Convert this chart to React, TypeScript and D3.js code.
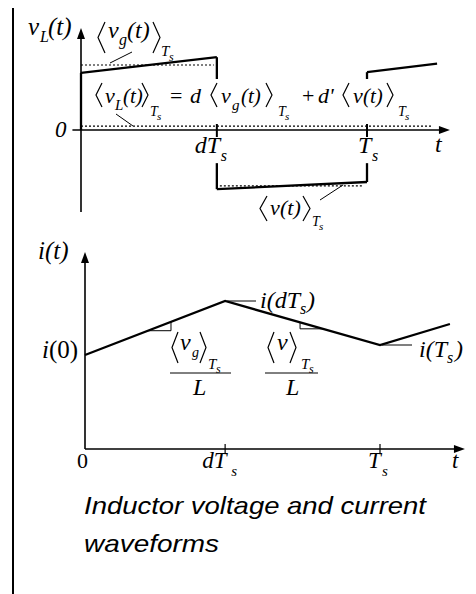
import React from "react";
import * as d3 from "d3";

// Duty cycle (fraction of the switching period Ts)
const D = 0.475;

// Inductor voltage, normalised so that <vg>Ts = 1
const vgInterval = [
  { t: 0, v: 0.88 },
  { t: D, v: 1.12 },
];
const vInterval = [
  { t: D, v: -0.91 },
  { t: 1, v: -0.8 },
];
const vgNextInterval = [
  { t: 1, v: 0.89 },
  { t: 1.245, v: 1.02 },
];
const VG_AVG = 1;
const V_AVG = -0.86;
const VL_AVG = 0.06;
// switching edges are interrupted where the averaging equation crosses them
const EDGE_BREAK = [-0.51, 0.785];

// Inductor current samples
const iPoints = [
  { t: 0, i: 0.94 },
  { t: D, i: 1.48 },
  { t: 1, i: 1.04 },
  { t: 1.237, i: 1.25 },
];

// slope markers (start/end times along each ramp)
const slopeUp = [0.2136, 0.2915];
const slopeDown = [0.729, 0.807];

const MATH = "Liberation Serif";
const SANS = "Liberation Sans";
const INK = "#000";

const xTop = d3.scaleLinear().domain([0, 1]).range([81, 367]);
const yTop = d3.scaleLinear().domain([0, 1]).range([130, 65]);
const xBot = d3.scaleLinear().domain([0, 1]).range([85, 380]);
const yBot = d3.scaleLinear().domain([0, 1]).range([449, 349]);

const lineV = d3
  .line<{ t: number; v: number }>()
  .x((d) => xTop(d.t))
  .y((d) => yTop(d.v));
const lineI = d3
  .line<{ t: number; i: number }>()
  .x((d) => xBot(d.t))
  .y((d) => yBot(d.i));

const iAt = (t: number) => {
  for (let k = 0; k < iPoints.length - 1; k++) {
    const a = iPoints[k];
    const b = iPoints[k + 1];
    if (t >= a.t && t <= b.t) return a.i + ((b.i - a.i) * (t - a.t)) / (b.t - a.t);
  }
  return iPoints[iPoints.length - 1].i;
};

function Angle({ x, top, bottom, w = 6, open }: { x: number; top: number; bottom: number; w?: number; open: boolean }) {
  const mid = (top + bottom) / 2;
  const d = open
    ? `M${x + w},${top}L${x},${mid}L${x + w},${bottom}`
    : `M${x},${top}L${x + w},${mid}L${x},${bottom}`;
  return <path d={d} fill="none" stroke={INK} strokeWidth={1.2} />;
}

function T({ x, y, size = 22, italic = true, children }: any) {
  return (
    <text x={x} y={y} fontFamily={MATH} fontSize={size} fontStyle={italic ? "italic" : "normal"} fill={INK}>
      {children}
    </text>
  );
}

function Arrow({ x, y, dir }: { x: number; y: number; dir: "up" | "right" }) {
  const d =
    dir === "up"
      ? `M${x},${y}L${x - 4},${y + 11}L${x + 4},${y + 11}Z`
      : `M${x},${y}L${x - 11},${y - 4}L${x - 11},${y + 4}Z`;
  return <path d={d} fill={INK} />;
}

export default function App() {
  const dashed = { stroke: INK, strokeWidth: 1.2, strokeDasharray: "2,2", fill: "none" };
  const wave = { stroke: INK, strokeWidth: 2.3, fill: "none" };
  const axis = { stroke: INK, strokeWidth: 1.6 };

  const tri1 = [
    [xBot(slopeUp[0]), yBot(iAt(slopeUp[0]))],
    [xBot(slopeUp[1]), yBot(iAt(slopeUp[0]))],
    [xBot(slopeUp[1]), yBot(iAt(slopeUp[1]))],
  ];
  const tri2 = [
    [xBot(slopeDown[0]), yBot(iAt(slopeDown[0]))],
    [xBot(slopeDown[0]), yBot(iAt(slopeDown[1]))],
    [xBot(slopeDown[1]), yBot(iAt(slopeDown[1]))],
  ];
  const poly = (p: number[][]) => "M" + p.map((q) => q.join(",")).join("L");

  return (
    <svg width={476} height={594} style={{ position: "absolute", left: 0, top: 0, background: "#fff" }}>
      <rect width={476} height={594} fill="#fff" />
      {/* side rule */}
      <line x1={13} y1={8} x2={13} y2={594} stroke={INK} strokeWidth={2} />

      {/* ---------- inductor voltage ---------- */}
      <line x1={xTop(0)} y1={yTop(-1.26)} x2={xTop(0)} y2={yTop(1.57) + 4} {...axis} />
      <Arrow x={xTop(0)} y={yTop(1.57)} dir="up" />
      <line x1={xTop(-0.03)} y1={yTop(0)} x2={xTop(1.29) - 4} y2={yTop(0)} {...axis} />
      <Arrow x={xTop(1.29)} y={yTop(0)} dir="right" />
      {[D, 1].map((t) => (
        <line key={t} x1={xTop(t)} x2={xTop(t)} y1={yTop(0) - 6} y2={yTop(0) + 7} stroke={INK} strokeWidth={2} />
      ))}

      {/* averages */}
      <line x1={xTop(0)} x2={xTop(D) - 3} y1={yTop(VG_AVG)} y2={yTop(VG_AVG)} {...dashed} />
      <line x1={xTop(0)} x2={xTop(1.23)} y1={yTop(VL_AVG)} y2={yTop(VL_AVG)} {...dashed} />
      <line x1={xTop(D) + 3} x2={xTop(1) - 4} y1={yTop(V_AVG)} y2={yTop(V_AVG)} {...dashed} />

      {/* waveform */}
      <path d={lineV(vgInterval) as string} {...wave} />
      <path d={lineV(vInterval) as string} {...wave} />
      <path d={lineV(vgNextInterval) as string} {...wave} />
      <line x1={xTop(0)} x2={xTop(0)} y1={yTop(0)} y2={yTop(vgInterval[0].v)} {...wave} />
      <line x1={xTop(D)} x2={xTop(D)} y1={yTop(vgInterval[1].v)} y2={yTop(EDGE_BREAK[1])} {...wave} />
      <line x1={xTop(D)} x2={xTop(D)} y1={yTop(EDGE_BREAK[0])} y2={yTop(vInterval[0].v)} {...wave} />
      <line x1={xTop(1)} x2={xTop(1)} y1={yTop(vInterval[1].v)} y2={yTop(EDGE_BREAK[0])} {...wave} />
      <line x1={xTop(1)} x2={xTop(1)} y1={yTop(EDGE_BREAK[1])} y2={yTop(vgNextInterval[0].v)} {...wave} />

      {/* leaders */}
      <line x1={110} y1={63} x2={132} y2={52} stroke={INK} strokeWidth={1} />
      <line x1={116} y1={114} x2={133} y2={126} stroke={INK} strokeWidth={1} />
      <line x1={320} y1={200} x2={343} y2={185} stroke={INK} strokeWidth={1} />

      {/* axis labels */}
      <T x={28} y={35} size={25}>v</T>
      <T x={40} y={42} size={16}>L</T>
      <T x={48} y={35} size={25}>(t)</T>
      <T x={55} y={137} size={23}>0</T>
      <T x={xTop(D) - 22} y={153} size={24}>dT</T>
      <T x={xTop(D) + 4} y={161} size={16}>s</T>
      <T x={xTop(1) - 9} y={153} size={24}>T</T>
      <T x={xTop(1) + 5} y={161} size={16}>s</T>
      <T x={435} y={152} size={24}>t</T>

      {/* <vg(t)>Ts */}
      <Angle x={98} top={22} bottom={53} w={7} open />
      <T x={108} y={38} size={24}>v</T>
      <T x={119} y={45} size={16}>g</T>
      <T x={127} y={38} size={24}>(t)</T>
      <Angle x={153} top={22} bottom={53} w={7} open={false} />
      <T x={161} y={56} size={15}>T</T>
      <T x={169} y={61} size={12}>s</T>

      {/* averaging equation */}
      <Angle x={96} top={83} bottom={107} open />
      <T x={105} y={103}>v</T>
      <T x={115} y={110} size={15}>L</T>
      <T x={123} y={103} size={21}>(t)</T>
      <Angle x={142} top={83} bottom={107} open={false} />
      <T x={150} y={116} size={14}>T</T>
      <T x={157} y={120} size={11}>s</T>
      <T x={170} y={103} italic={false}>=</T>
      <T x={190} y={103}>d</T>
      <Angle x={211} top={83} bottom={107} open />
      <T x={221} y={103}>v</T>
      <T x={232} y={110} size={15}>g</T>
      <T x={241} y={103} size={21}>(t)</T>
      <Angle x={266} top={83} bottom={107} open={false} />
      <T x={278} y={116} size={14}>T</T>
      <T x={285} y={120} size={11}>s</T>
      <T x={302} y={103} italic={false}>+</T>
      <T x={318} y={103}>d'</T>
      <Angle x={343} top={83} bottom={107} open />
      <T x={353} y={103}>v</T>
      <T x={363} y={103} size={21}>(t)</T>
      <Angle x={387} top={83} bottom={107} open={false} />
      <T x={398} y={116} size={14}>T</T>
      <T x={405} y={120} size={11}>s</T>

      {/* <v(t)>Ts */}
      <Angle x={260} top={196} bottom={221} w={7} open />
      <T x={270} y={215}>v</T>
      <T x={280} y={215}>(t)</T>
      <Angle x={303} top={196} bottom={221} w={7} open={false} />
      <T x={312} y={226} size={14}>T</T>
      <T x={319} y={230} size={11}>s</T>

      {/* ---------- inductor current ---------- */}
      <line x1={xBot(0)} y1={yBot(0)} x2={xBot(0)} y2={yBot(1.97) + 4} {...axis} />
      <Arrow x={xBot(0)} y={yBot(1.97)} dir="up" />
      <line x1={xBot(0)} y1={yBot(0)} x2={xBot(1.288) - 4} y2={yBot(0)} {...axis} />
      <Arrow x={xBot(1.288)} y={yBot(0)} dir="right" />
      {[D, 1].map((t) => (
        <line key={t} x1={xBot(t)} x2={xBot(t)} y1={yBot(0) - 5} y2={yBot(0) + 4} stroke={INK} strokeWidth={1.2} />
      ))}

      <path d={lineI(iPoints) as string} {...wave} />
      <path d={poly(tri1)} fill="none" stroke={INK} strokeWidth={1} />
      <path d={poly(tri2)} fill="none" stroke={INK} strokeWidth={1} />

      {/* value leaders */}
      <line x1={xBot(D) + 2} x2={256} y1={yBot(iPoints[1].i)} y2={yBot(iPoints[1].i)} stroke={INK} strokeWidth={1} />
      <line x1={xBot(1) + 2} x2={412} y1={yBot(iPoints[2].i)} y2={yBot(iPoints[2].i)} stroke={INK} strokeWidth={1} />

      <T x={38} y={259} size={25}>i(t)</T>
      <T x={42} y={358} size={25}>i</T>
      <T x={49} y={358} size={25} italic={false}>(0)</T>
      <T x={260} y={308} size={24}>i(dT</T>
      <T x={300} y={314} size={16}>s</T>
      <T x={307} y={308} size={24}>)</T>
      <T x={419} y={357} size={24}>i(T</T>
      <T x={447} y={363} size={16}>s</T>
      <T x={455} y={357} size={24}>)</T>

      {/* slope fractions */}
      <Angle x={172} top={332} bottom={363} open />
      <T x={180} y={350} size={24}>v</T>
      <T x={192} y={357} size={14}>g</T>
      <Angle x={200} top={332} bottom={363} open={false} />
      <T x={208} y={369} size={15}>T</T>
      <T x={216} y={373} size={12}>s</T>
      <line x1={170} x2={231} y1={373} y2={373} stroke={INK} strokeWidth={1} />
      <T x={193} y={395} size={24}>L</T>

      <Angle x={268} top={332} bottom={363} open />
      <T x={277} y={350} size={24}>v</T>
      <Angle x={290} top={332} bottom={363} open={false} />
      <T x={301} y={369} size={15}>T</T>
      <T x={309} y={373} size={12}>s</T>
      <line x1={265} x2={318} y1={373} y2={373} stroke={INK} strokeWidth={1} />
      <T x={286} y={395} size={24}>L</T>

      {/* time labels */}
      <T x={77} y={468} size={22} italic={false}>0</T>
      <T x={xBot(D) - 23} y={468} size={23}>dT</T>
      <T x={xBot(D) + 6} y={476} size={15}>s</T>
      <T x={xBot(1) - 12} y={468} size={23}>T</T>
      <T x={xBot(1) + 2} y={476} size={15}>s</T>
      <T x={452} y={468} size={23}>t</T>

      {/* caption */}
      <text x={84} y={514} fontFamily={SANS} fontSize={24} fontStyle="italic" textLength={342} lengthAdjust="spacingAndGlyphs">
        Inductor voltage and current
      </text>
      <text x={84} y={552} fontFamily={SANS} fontSize={24} fontStyle="italic" textLength={135} lengthAdjust="spacingAndGlyphs">
        waveforms
      </text>
    </svg>
  );
}
